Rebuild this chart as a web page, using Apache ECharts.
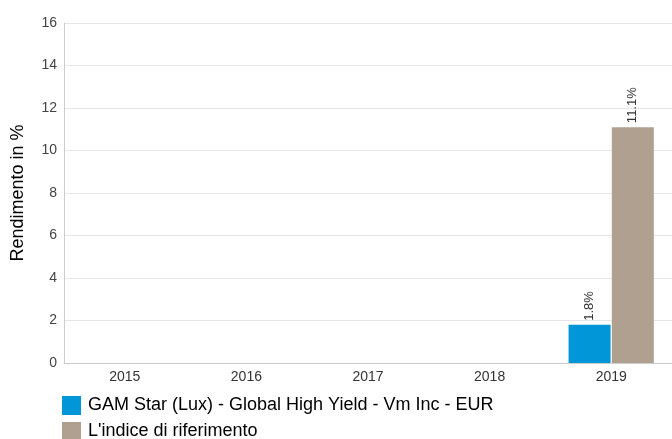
<!DOCTYPE html>
<html>
<head>
<meta charset="utf-8">
<script src="https://cdn.jsdelivr.net/npm/echarts@6/dist/echarts.min.js"></script>
<style>html,body{margin:0;padding:0;background:#fff}#c{width:672px;height:439px}</style>
</head>
<body>
<div id="c"></div>
<script>
var categories = ['2015', '2016', '2017', '2018', '2019'];
var fundName = 'GAM Star (Lux) - Global High Yield - Vm Inc - EUR';
var indexName = "L'indice di riferimento";
var fundValues = [null, null, null, null, 1.8];
var indexValues = [null, null, null, null, 11.1];
var yTitle = 'Rendimento in %';

var chart = echarts.init(document.getElementById('c'));
var font = '"Liberation Sans", Arial, sans-serif';
function lbl() {
  return {
    show: true, rotate: 90, position: 'top', align: 'left', verticalAlign: 'middle',
    distance: 4, fontSize: 13, color: '#333', fontFamily: font,
    formatter: function (p) { return p.value.toFixed(1) + '%'; }
  };
}
chart.setOption({
  animation: false,
  textStyle: { fontFamily: font },
  grid: { left: 64, right: -2, top: 23, bottom: 76, containLabel: false },
  legend: {
    orient: 'vertical', left: 62, top: 396, height: 80, padding: 0,
    itemWidth: 19, itemHeight: 19, itemGap: 7,
    icon: 'rect', textStyle: { fontSize: 18, color: '#000', fontFamily: font, padding: [0, 0, 0, 2] },
    data: [fundName, indexName]
  },
  xAxis: {
    type: 'category', data: categories,
    axisLine: { lineStyle: { color: '#ccc' } },
    axisTick: { show: false },
    axisLabel: { fontSize: 14, color: '#333', margin: 7 }
  },
  yAxis: {
    type: 'value', min: 0, max: 16, interval: 2,
    name: yTitle, nameLocation: 'middle', nameGap: 37,
    nameTextStyle: { fontSize: 18, color: '#000' },
    axisLine: { show: true, lineStyle: { color: '#ccc' } },
    axisLabel: { fontSize: 14, color: '#444', margin: 7 },
    splitLine: { lineStyle: { color: '#e6e6e6' } }
  },
  series: [
    { name: fundName, type: 'bar', data: fundValues, barWidth: 42, barGap: '3%',
      itemStyle: { color: '#0096d8' }, label: lbl() },
    { name: indexName, type: 'bar', data: indexValues, barWidth: 42,
      itemStyle: { color: '#afa08f' }, label: lbl() }
  ]
});
</script>
</body>
</html>
